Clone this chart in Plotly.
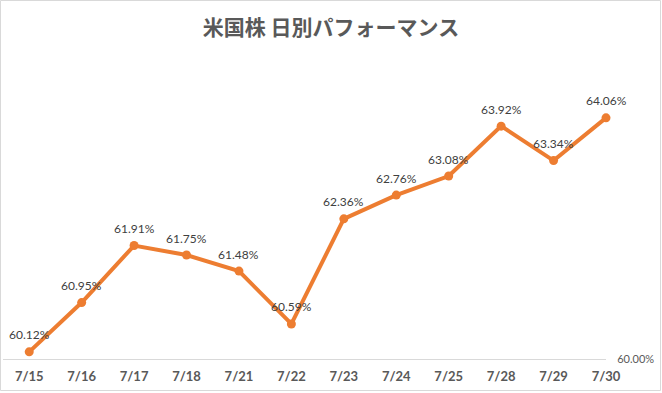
import plotly.graph_objects as go

dates = ["7/15", "7/16", "7/17", "7/18", "7/21", "7/22", "7/23", "7/24", "7/25", "7/28", "7/29", "7/30"]
values = [60.12, 60.95, 61.91, 61.75, 61.48, 60.59, 62.36, 62.76, 63.08, 63.92, 63.34, 64.06]
labels = [f"{v:.2f}%" for v in values]
title = "米国株 日別パフォーマンス"

W, H = 662, 393
L, R, T, B = 3, 56, 62, 34
pw, ph = W - L - R, H - T - B

fig = go.Figure()
fig.add_trace(go.Scatter(
    x=list(range(len(dates))), y=values,
    mode="lines+markers",
    line=dict(color="#ED7D31", width=4),
    marker=dict(color="#ED7D31", size=9),
    cliponaxis=False, hoverinfo="skip",
))

for i, (v, t) in enumerate(zip(values, labels)):
    fig.add_annotation(x=i, y=v, text=t, showarrow=False, yshift=17,
                       font=dict(family="Lato, Liberation Sans, sans-serif", size=12, color="#404040"))

def px(x):
    return (x - L) / pw

def py(y):
    return (H - B - y) / ph

fig.update_layout(
    width=W, height=H,
    margin=dict(l=L, r=R, t=T, b=B, autoexpand=False),
    paper_bgcolor="white", plot_bgcolor="white",
    showlegend=False,
    title=dict(text=title, x=0.5, xref="container", xanchor="center",
               y=1 - 28 / H, yanchor="middle",
               font=dict(family="Noto Sans CJK JP", size=21, color="#595959", weight="bold")),
    xaxis=dict(range=[-0.5, 11], tickvals=list(range(len(dates))), ticktext=dates,
               showgrid=False, zeroline=False, showline=True, linecolor="#D9D9D9", linewidth=1,
               ticks="outside", ticklen=5, tickcolor="rgba(0,0,0,0)",
               tickfont=dict(family="Lato, Liberation Sans, sans-serif", size=13, color="#595959", weight="bold"),
               fixedrange=True, automargin=False),
    yaxis=dict(range=[60, 65], side="right", tickvals=[60], ticktext=["60.00%"],
               showgrid=False, zeroline=False, showline=False,
               tickfont=dict(family="Lato, Liberation Sans, sans-serif", size=11, color="#595959"),
               ticks="outside", ticklen=8, tickcolor="rgba(0,0,0,0)",
               fixedrange=True, automargin=False),
    shapes=[dict(type="rect", xref="paper", yref="paper",
                 x0=px(0.5), x1=px(660.5), y0=py(390.5), y1=py(0.5),
                 line=dict(color="#D9D9D9", width=1), fillcolor="rgba(0,0,0,0)", layer="below")],
)

fig.write_html("out.html", config={"displayModeBar": False},
               post_script="document.body.style.margin='0';document.body.style.padding='0';document.body.style.overflow='hidden';")
